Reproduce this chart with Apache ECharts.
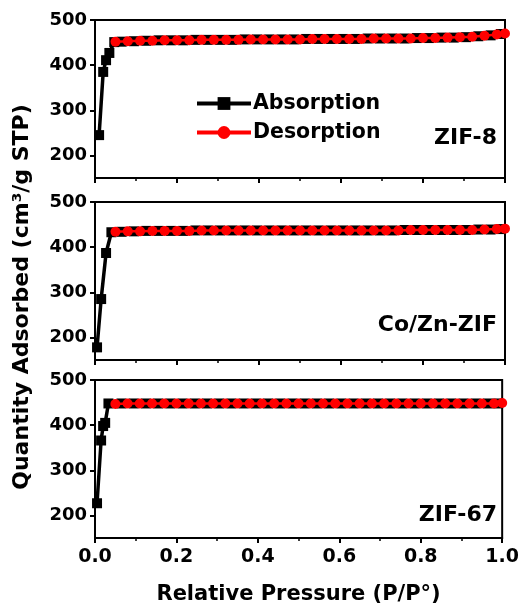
<!DOCTYPE html>
<html>
<head>
<meta charset="utf-8">
<script src="https://cdn.jsdelivr.net/npm/echarts@6/dist/echarts.min.js"></script>
<style>
  html, body { margin: 0; padding: 0; background: #fff; }
  #chart { width: 522px; height: 612px; }
</style>
</head>
<body>
<div id="chart"></div>
<script>
// panel names (top to bottom)
var panels = ['ZIF-8', 'Co/Zn-ZIF', 'ZIF-67']

// desorption branch, relative pressure points (shared by all panels)
var desP = [0.05, 0.08, 0.11, 0.14, 0.17, 0.20, 0.23, 0.26, 0.29, 0.32, 0.35, 0.38, 0.41, 0.44, 0.47, 0.50,
  0.53, 0.56, 0.59, 0.62, 0.65, 0.68, 0.71, 0.74, 0.77, 0.80, 0.83, 0.86, 0.89, 0.92, 0.95, 0.98, 1.0]
var desZif8 = [452, 453, 454, 454, 455, 455, 455, 456, 456, 456, 456, 457, 457, 457, 457, 457,
  458, 458, 458, 458, 458, 459, 459, 459, 459, 460, 460, 461, 462, 463, 465, 468, 470]
var desCoZn = [434, 435, 435, 436, 436, 436, 436, 437, 437, 437, 437, 437, 437, 437, 437, 437,
  437, 437, 437, 437, 437, 437, 437, 437, 438, 438, 438, 438, 438, 438, 439, 440, 441]
var desZif67 = [447, 448, 448, 448, 448, 448, 448, 448, 448, 448, 448, 448, 448, 448, 448, 448,
  448, 448, 448, 448, 448, 448, 448, 448, 448, 448, 448, 448, 448, 448, 448, 448, 449]

// adsorption branch: steep low-pressure part per panel
var adsLowP8 = [0.01, 0.02, 0.027, 0.035, 0.047]
var adsLow8 = [245, 385, 411, 427, 451]
var adsLowPCo = [0.005, 0.015, 0.027, 0.04]
var adsLowCo = [178, 285, 387, 433]
var adsLowP67 = [0.005, 0.015, 0.02, 0.025, 0.033]
var adsLow67 = [227, 366, 398, 405, 448]

// adsorption plateau points (between desorption points)
var adsP = [0.065, 0.095, 0.125, 0.155, 0.185, 0.215, 0.245, 0.275, 0.305, 0.335, 0.365, 0.395, 0.425, 0.455, 0.485,
  0.515, 0.545, 0.575, 0.605, 0.635, 0.665, 0.695, 0.725, 0.755, 0.785, 0.815, 0.845, 0.875, 0.905, 0.935, 0.965, 0.99]
var adsZif8 = [452, 453, 454, 455, 455, 455, 456, 456, 456, 456, 457, 457, 457, 457, 457,
  458, 458, 458, 458, 458, 459, 459, 459, 459, 460, 460, 461, 461, 462, 464, 466, 469]
var adsCoZn = [434, 435, 436, 436, 436, 436, 437, 437, 437, 437, 437, 437, 437, 437, 437,
  437, 437, 437, 437, 437, 437, 437, 437, 438, 438, 438, 438, 438, 438, 439, 439, 440]
var adsZif67 = [448, 448, 448, 448, 448, 448, 448, 448, 448, 448, 448, 448, 448, 448, 448,
  448, 448, 448, 448, 448, 448, 448, 448, 448, 448, 448, 448, 448, 448, 448, 448, 448]

function pairs(xs, ys) {
  var out = []
  for (var i = 0; i < xs.length; i++) out.push([xs[i], ys[i]])
  return out
}

var adsData = [
  pairs(adsLowP8, adsLow8).concat(pairs(adsP, adsZif8)),
  pairs(adsLowPCo, adsLowCo).concat(pairs(adsP, adsCoZn)),
  pairs(adsLowP67, adsLow67).concat(pairs(adsP, adsZif67))
]
var desData = [pairs(desP, desZif8), pairs(desP, desCoZn), pairs(desP, desZif67)]

var font = 'DejaVu Sans'
var gridTops = [20, 202, 380]
var labelY = [138, 325, 515]
var grids = [], xAxes = [], yAxes = [], series = [], texts = []

for (var i = 0; i < 3; i++) {
  grids.push({
    left: 95, top: gridTops[i], width: 410, height: 158,
    show: true, borderColor: '#000', borderWidth: 2, backgroundColor: 'transparent'
  })
  xAxes.push({
    gridIndex: i, type: 'value', min: 0, max: 1, interval: 0.2,
    axisLine: { lineStyle: { color: '#000', width: 2 } },
    axisTick: { length: 5, lineStyle: { color: '#000', width: 2 } },
    minorTick: { show: true, splitNumber: 2, length: 3, lineStyle: { color: '#000', width: 1.5 } },
    splitLine: { show: false },
    axisLabel: {
      show: i === 2, color: '#000', fontFamily: font, fontWeight: 'bold', fontSize: 19, margin: 10,
      formatter: function(v) { return v.toFixed(1) }
    },
    name: i === 2 ? 'Relative Pressure (P/P\u00b0)' : '',
    nameLocation: 'middle', nameGap: 46,
    nameTextStyle: { color: '#000', fontFamily: font, fontWeight: 'bold', fontSize: 21 }
  })
  yAxes.push({
    gridIndex: i, type: 'value', min: 150, max: 500, splitNumber: 5,
    axisLine: { show: true, lineStyle: { color: '#000', width: 2 } },
    axisTick: { show: true, length: 5, lineStyle: { color: '#000', width: 2 } },
    splitLine: { show: false },
    axisLabel: {
      color: '#000', fontFamily: font, fontWeight: 'bold', fontSize: 18, margin: 8,
      showMinLabel: false,
      formatter: function(v) { return v % 100 === 0 ? String(v) : '' }
    }
  })
  series.push({
    name: 'Absorption', type: 'line', xAxisIndex: i, yAxisIndex: i,
    data: adsData[i], symbol: 'rect', symbolSize: 10, showAllSymbol: true,
    itemStyle: { color: '#000' }, lineStyle: { color: '#000', width: 3.5 }, z: 2
  })
  series.push({
    name: 'Desorption', type: 'line', xAxisIndex: i, yAxisIndex: i,
    data: desData[i], symbol: 'circle', symbolSize: 10, showAllSymbol: true,
    itemStyle: { color: '#ff0000' }, lineStyle: { color: '#ff0000', width: 2.5 }, z: 3
  })
  texts.push({
    type: 'text', x: 497, y: labelY[i],
    style: { text: panels[i], fill: '#000', font: 'bold 22px "DejaVu Sans"', textAlign: 'right', textVerticalAlign: 'middle' }
  })
}

texts.push({
  type: 'text', x: 22, y: 297, rotation: Math.PI / 2,
  style: { text: 'Quantity Adsorbed (cm\u00b3/g STP)', fill: '#000', font: 'bold 22px "DejaVu Sans"', textAlign: 'center', textVerticalAlign: 'middle' }
})

var chart = echarts.init(document.getElementById('chart'))
chart.setOption({
  animation: false,
  backgroundColor: '#fff',
  grid: grids,
  xAxis: xAxes,
  yAxis: yAxes,
  legend: {
    data: ['Absorption', 'Desorption'],
    orient: 'vertical', left: 190, top: 88,
    itemWidth: 54, itemHeight: 16, itemGap: 8,
    lineStyle: { width: 4 },
    textStyle: { color: '#000', fontFamily: font, fontWeight: 'bold', fontSize: 20.5, padding: [0, 0, 0, -3] }
  },
  graphic: texts,
  series: series
})
</script>
</body>
</html>
